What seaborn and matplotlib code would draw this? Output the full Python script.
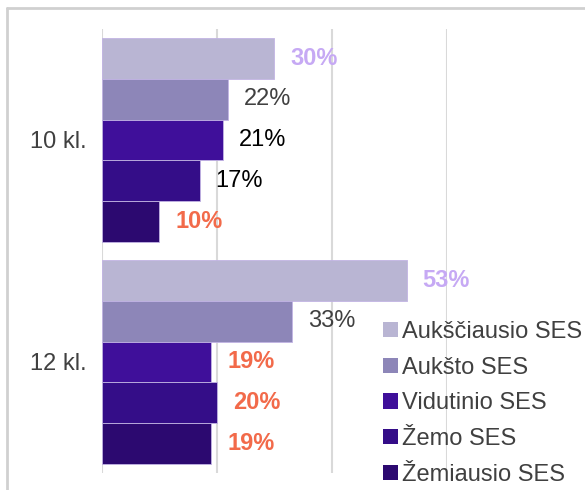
import matplotlib

matplotlib.use("Agg")
import matplotlib.pyplot as plt
import pandas as pd
import seaborn as sns
from matplotlib.lines import Line2D

# duomenys
klases = ["10 kl.", "12 kl."]
ses_grupes = ["Aukščiausio SES", "Aukšto SES", "Vidutinio SES", "Žemo SES", "Žemiausio SES"]
reiksmes_10 = [30, 22, 21, 17, 10]
reiksmes_12 = [53, 33, 19, 20, 19]

spalvos = ["#B9B5D3", "#8D86B8", "#3F0F9A", "#340D88", "#2C0970"]

# etikeciu stilius: (spalva, storis) kiekvienam stulpeliui
LAVENDER = "#C6A9F4"
ORANGE = "#F26A4A"
GREY = "#404040"
etiketes_10 = [(LAVENDER, "bold"), (GREY, "normal"), ("black", "normal"), ("black", "normal"), (ORANGE, "bold")]
etiketes_12 = [(LAVENDER, "bold"), (GREY, "normal"), (ORANGE, "bold"), (ORANGE, "bold"), (ORANGE, "bold")]

FS = 17

df = pd.DataFrame(
    {
        "klase": [k for k in klases for _ in ses_grupes],
        "ses": ses_grupes * 2,
        "reiksme": reiksmes_10 + reiksmes_12,
    }
)

sns.set_theme(style="white")
plt.rcParams["font.family"] = ["Liberation Sans", "DejaVu Sans"]

fig = plt.figure(figsize=(5.85, 4.9), dpi=100)
ax = fig.add_axes([101.7 / 585, 1 - 473 / 490, (447 - 101.7) / 585, (473 - 29) / 490])

sns.barplot(
    data=df,
    x="reiksme",
    y="klase",
    hue="ses",
    order=klases,
    hue_order=ses_grupes,
    palette=spalvos,
    saturation=1,
    orient="h",
    width=0.923,
    edgecolor="#C2B4E4",
    linewidth=0.6,
    ax=ax,
)

ax.set_xlim(0, 60)
ax.set_ylim(1.5, -0.5)
ax.set_xticks([0, 20, 40, 60])
ax.set_xticklabels([])
ax.grid(axis="x", color="#D9D9D9", linewidth=1.5)
ax.set_axisbelow(True)
for s in ax.spines.values():
    s.set_visible(False)
ax.set_xlabel("")
ax.set_ylabel("")
ax.tick_params(axis="y", length=0, pad=11, labelsize=FS, labelcolor=GREY)
ax.tick_params(axis="x", length=0)

stiliai = [etiketes_10, etiketes_12]
for i, cont in enumerate(ax.containers):
    for j, bar in enumerate(cont):
        val = bar.get_width()
        col, wt = stiliai[j][i]
        ax.annotate(
            f"{val:.0f}%",
            (val, bar.get_y() + bar.get_height() / 2),
            xytext=(11.5, 0),
            textcoords="offset points",
            va="center",
            ha="left",
            fontsize=FS,
            color=col,
            fontweight=wt,
            annotation_clip=False,
        )

handles = ax.get_legend().legend_handles
for h in handles:
    h.set_edgecolor("none")
ax.get_legend().remove()
fig.legend(
    handles,
    ses_grupes,
    loc="upper left",
    bbox_to_anchor=(383 / 585, 1 - 321 / 490),
    frameon=False,
    fontsize=FS,
    labelcolor=GREY,
    handlelength=0.62,
    handleheight=0.62,
    handletextpad=0.2,
    labelspacing=0.58,
    borderpad=0,
    borderaxespad=0,
)

# remelis aplink diagrama
fig.add_artist(Line2D([7 / 585, 7 / 585], [0, 1 - 8 / 490], color="#D0D0D0", linewidth=2, transform=fig.transFigure))
fig.add_artist(Line2D([7 / 585, 1], [1 - 8 / 490, 1 - 8 / 490], color="#D0D0D0", linewidth=2, transform=fig.transFigure))

fig.savefig("out.png", dpi=100)
